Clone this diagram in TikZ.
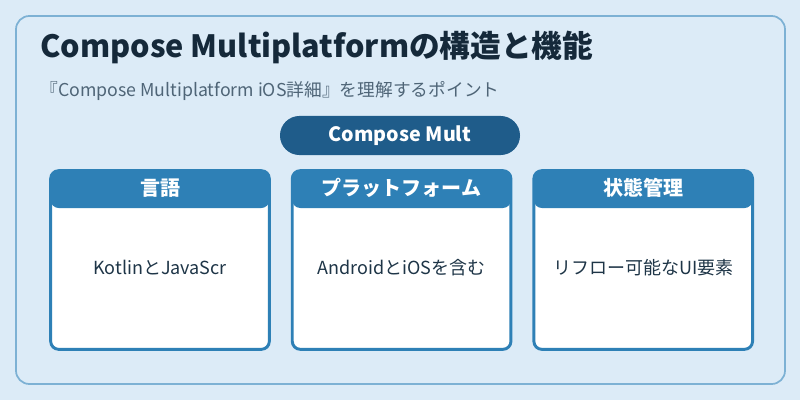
\documentclass[tikz,border=0pt]{standalone}
\usepackage{fontspec}
\setmainfont{Noto Sans CJK JP}
\usepackage{xcolor}
\usetikzlibrary{positioning}
\definecolor{pagebg}{HTML}{DCEBF7}
\definecolor{framecol}{HTML}{7DB1D4}
\definecolor{pillblue}{HTML}{1F5C8A}
\definecolor{headblue}{HTML}{2E80B6}
\definecolor{titleink}{HTML}{15293A}
\definecolor{subink}{HTML}{4F6577}
\definecolor{bodyink}{HTML}{1E3547}

\begin{document}
\begin{tikzpicture}[x=0.75pt,y=-0.75pt,node distance=15pt,
   card/.style={draw=headblue,line width=2.2pt,rounded corners=6pt,fill=white,
                minimum width=164pt,minimum height=134pt,inner sep=0pt,
                path picture={\fill[headblue] (path picture bounding box.north west)
                  rectangle ([yshift=-28pt]path picture bounding box.north east);}},
   head/.style={font=\fontsize{15}{18}\selectfont\bfseries,text=white},
   body/.style={font=\fontsize{13.5}{16}\selectfont,text=bodyink}]
  \useasboundingbox[fill=pagebg] (0,0) rectangle (800,400);
  \draw[framecol,line width=1.3pt,rounded corners=10pt] (16,16) rectangle (785,384);
  \node[anchor=base west,inner sep=0pt,text=titleink,
        font=\fontsize{23}{27}\selectfont\bfseries] (title) at (40,57)
        {Compose Multiplatformの構造と機能};
  \node[anchor=base west,inner sep=0pt,text=subink,
        font=\fontsize{13.3}{16}\selectfont] (sub) at (40,96)
        {『Compose Multiplatform iOS詳細』を理解するポイント};
  \node[fill=pillblue,rounded corners=14.6pt,minimum width=180pt,minimum height=29.3pt,
        text=white,font=\fontsize{14.8}{18}\selectfont\bfseries] (pill) at (400,135.5)
        {Compose Mult};
  % three cards
  \node[card] (lang) at (160,260) {};
  \node[card,right=of lang] (plat) {};
  \node[card,right=of plat] (state) {};
  \node[head] at ([yshift=-14pt]lang.north) {言語};
  \node[head] at ([yshift=-14pt]plat.north) {プラットフォーム};
  \node[head] at ([yshift=-14pt]state.north) {状態管理};
  \node[body] at ([yshift=-6pt]lang.center) {KotlinとJavaScr};
  \node[body] at ([yshift=-6pt]plat.center) {AndroidとiOSを含む};
  \node[body] at ([yshift=-6pt]state.center) {リフロー可能なUI要素};
\end{tikzpicture}
\end{document}
